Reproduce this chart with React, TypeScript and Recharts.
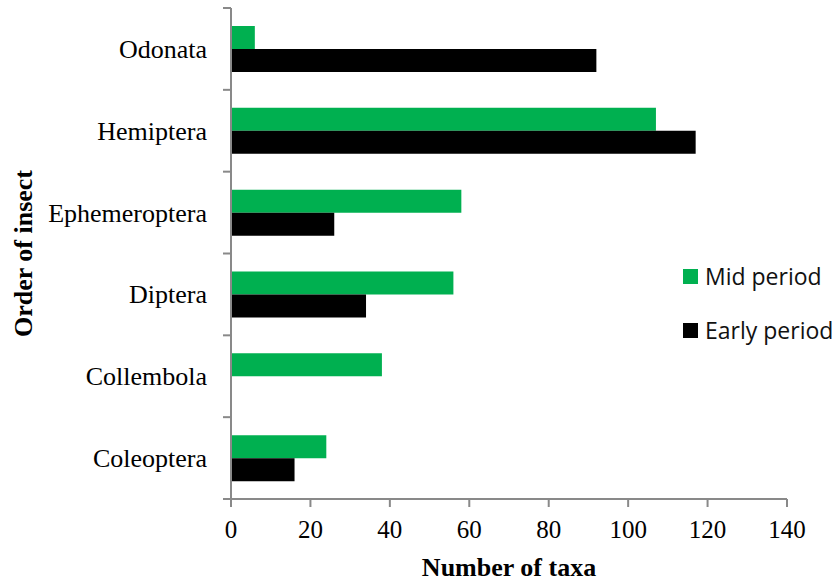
import { BarChart, Bar, XAxis, YAxis, Legend } from 'recharts'

// Orders of insect, listed top to bottom
const orders = ['Odonata', 'Hemiptera', 'Ephemeroptera', 'Diptera', 'Collembola', 'Coleoptera']
const midPeriod = [6, 107, 58, 56, 38, 24]
const earlyPeriod = [92, 117, 26, 34, 0, 16]

const taxaTicks = [0, 20, 40, 60, 80, 100, 120, 140]

const serif = "'Times New Roman', 'Liberation Serif', serif"
const axisGrey = '#898989'
const GREEN = '#00B050'
const BLACK = '#000000'

const CHART_W = 835
const CHART_H = 582
const TOP = 8
const X_AXIS_H = 83
const Y_AXIS_W = 231
const TICK_SIZE = 8
const TICK_MARGIN = 16
// height of one category band, used to put the y tick marks between labels
const BAND = (CHART_H - TOP - X_AXIS_H) / orders.length

const data = orders.map((order, i) => ({
  order,
  mid: midPeriod[i],
  early: earlyPeriod[i],
}))

const legendItems = [
  { label: 'Mid period', color: GREEN },
  { label: 'Early period', color: BLACK },
]

function LegendBox() {
  return (
    <div style={{ fontFamily: "'Open Sans', sans-serif", fontSize: 23, color: '#111' }}>
      {legendItems.map((item) => (
        <div key={item.label} style={{ display: 'flex', alignItems: 'center', height: 54 }}>
          <span style={{ width: 15, height: 15, background: item.color, marginRight: 7 }} />
          <span>{item.label}</span>
        </div>
      ))}
    </div>
  )
}

// category label plus a tick mark at the band boundary above it (and below the last one)
function OrderTick({ x, y, payload, index }: any) {
  const lineX1 = x + TICK_MARGIN
  const lineX2 = x + TICK_MARGIN + TICK_SIZE
  const isLast = index === orders.length - 1
  return (
    <g>
      <line x1={lineX1} x2={lineX2} y1={y - BAND / 2} y2={y - BAND / 2} stroke={axisGrey} strokeWidth={2} />
      {isLast && (
        <line x1={lineX1} x2={lineX2} y1={y + BAND / 2} y2={y + BAND / 2} stroke={axisGrey} strokeWidth={2} />
      )}
      <text x={x} y={y} dy={9} textAnchor="end" fontFamily={serif} fontSize={26} fill="#000">
        {payload.value}
      </text>
    </g>
  )
}

export default function App() {
  return (
    <div style={{ position: 'absolute', left: 0, top: 0, background: '#fff' }}>
      <BarChart
        width={CHART_W}
        height={CHART_H}
        data={data}
        layout="vertical"
        margin={{ top: TOP, right: 48, bottom: 0, left: 0 }}
        barGap={0}
        barSize={23}
      >
        <YAxis
          yAxisId="cat"
          type="category"
          dataKey="order"
          width={Y_AXIS_W}
          axisLine={{ stroke: axisGrey, strokeWidth: 2 }}
          tickLine={false}
          tickSize={TICK_SIZE}
          tickMargin={TICK_MARGIN}
          interval={0}
          tick={<OrderTick />}
          label={({ viewBox }: any) => (
            <text
              x={viewBox.x + 32}
              y={viewBox.y + viewBox.height / 2}
              transform={`rotate(-90, ${viewBox.x + 32}, ${viewBox.y + viewBox.height / 2})`}
              textAnchor="middle"
              fontFamily={serif}
              fontWeight="bold"
              fontSize={26}
              fill="#000"
            >
              Order of insect
            </text>
          )}
        />
        <XAxis
          type="number"
          domain={[0, 140]}
          ticks={taxaTicks}
          height={X_AXIS_H}
          axisLine={{ stroke: axisGrey, strokeWidth: 2 }}
          tickLine={{ stroke: axisGrey, strokeWidth: 2 }}
          tickSize={TICK_SIZE}
          tickMargin={13}
          tick={{ fontFamily: serif, fontSize: 25, fill: '#000' }}
          label={({ viewBox }: any) => (
            <text
              x={viewBox.x + viewBox.width / 2}
              y={viewBox.y + 77}
              textAnchor="middle"
              fontFamily={serif}
              fontWeight="bold"
              fontSize={26}
              fill="#000"
            >
              Number of taxa
            </text>
          )}
        />
        <Legend
          layout="vertical"
          align="center"
          verticalAlign="middle"
          content={() => <LegendBox />}
          wrapperStyle={{ left: 683, top: 249, width: 160 }}
        />
        <Bar yAxisId="cat" dataKey="mid" name="Mid period" fill={GREEN} isAnimationActive={false} />
        <Bar yAxisId="cat" dataKey="early" name="Early period" fill={BLACK} isAnimationActive={false} />
      </BarChart>
    </div>
  )
}
